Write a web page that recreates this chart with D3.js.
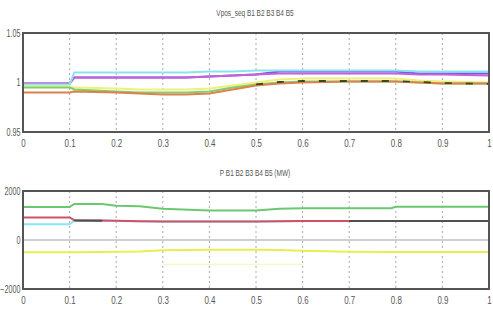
<!DOCTYPE html>
<html>
<head>
<meta charset="utf-8">
<script src="https://cdn.jsdelivr.net/npm/d3@7"></script>
<style>
  body { margin: 0; background: #fff; }
  svg text { font-family: "Liberation Sans", "DejaVu Sans", sans-serif; fill: #555; }
</style>
</head>
<body>
<svg id="chart" width="493" height="322"></svg>
<script>
// shared x ticks
const xTicks = [0, 0.1, 0.2, 0.3, 0.4, 0.5, 0.6, 0.7, 0.8, 0.9, 1];

// top plot: positive sequence voltage
const vTitle = "Vpos_seq B1 B2 B3 B4 B5";
const vTime = [0, 0.1, 0.11, 0.2, 0.25, 0.3, 0.35, 0.4, 0.45, 0.5, 0.55, 0.6, 0.7, 0.8, 0.85, 0.9, 1.0];
const vTicks = [0.95, 1, 1.05];
const vYellow  = [0.996, 0.996, 0.995, 0.994, 0.993, 0.993, 0.993, 0.994, 0.997, 1.000, 1.003, 1.004, 1.004, 1.004, 1.002, 1.001, 1.000];
const vMagenta = [0.999, 0.999, 1.005, 1.005, 1.005, 1.005, 1.005, 1.006, 1.007, 1.008, 1.009, 1.009, 1.009, 1.009, 1.008, 1.008, 1.007];
const vBlue    = [0.999, 0.999, 1.005, 1.005, 1.005, 1.005, 1.005, 1.006, 1.007, 1.008, 1.0112, 1.0112, 1.0112, 1.0112, 1.009, 1.009, 1.009];
const vCyan    = [0.998, 0.998, 1.010, 1.010, 1.010, 1.010, 1.010, 1.011, 1.011, 1.012, 1.012, 1.012, 1.012, 1.012, 1.011, 1.011, 1.011];
const vRed     = [0.990, 0.990, 0.991, 0.990, 0.989, 0.988, 0.988, 0.989, 0.993, 0.997, 0.999, 1.000, 1.001, 1.001, 1.000, 0.999, 0.999];
const vGreen   = [0.995, 0.995, 0.993, 0.991, 0.990, 0.990, 0.990, 0.991, 0.995, 0.998, 1.000, 1.001, 1.001, 1.001, 1.000, 0.999, 0.999];
const vBlack   = [null, null, null, null, null, null, null, null, null, 0.998, 1.0005, 1.0015, 1.0015, 1.0015, 1.0005, 0.9995, 0.9985];

// bottom plot: active power
const pTitle = "P B1 B2 B3 B4 B5 (MW)";
const pTime = [0, 0.1, 0.11, 0.17, 0.2, 0.25, 0.3, 0.4, 0.5, 0.55, 0.6, 0.7, 0.79, 0.8, 0.9, 1.0];
const pTicks = [-2000, 0, 2000];
const pGreen  = [1350, 1350, 1470, 1470, 1400, 1380, 1280, 1200, 1200, 1280, 1300, 1300, 1300, 1360, 1360, 1360];
const pCyan   = [640, 640, 790, 790, 780, 770, 760, 760, 760, 770, 775, 775, 775, 775, 775, 775];
const pRed    = [920, 920, 810, 800, 790, 770, 760, 760, 760, 770, 775, 775, 775, 775, 775, 775];
const pBlack  = [null, null, 800, 790, null, null, null, null, 740, null, null, 775, 775, 775, 775, 775];
const pGrey   = [0, 0, 0, 0, 0, 0, 0, 0, 0, 0, 0, 0, 0, 0, 0, 0];
const pYellow = [-500, -500, -500, -490, -480, -470, -420, -400, -400, -410, -440, -480, -490, -490, -490, -490];
const pFaint  = [null, null, null, null, null, null, -1000, -1000, -1000, -1000, -1000, null, null, null, null, null];

const svg = d3.select("#chart");
const squeeze = "scale(0.72,1)";

function panel(top, bottom, title, titleY, yDomain, yTicks, time, series) {
  const x = d3.scaleLinear().domain([0, 1]).range([23, 489]);
  const y = d3.scaleLinear().domain(yDomain).range([bottom, top]);
  const g = svg.append("g");

  // dotted vertical grid
  g.selectAll(".grid").data(xTicks.slice(1, -1)).enter().append("line")
    .attr("x1", d => x(d)).attr("x2", d => x(d))
    .attr("y1", top).attr("y2", bottom)
    .attr("stroke", "#a8a8a8").attr("stroke-width", 1)
    .attr("stroke-dasharray", "2,3");

  const line = d3.line()
    .defined(d => d[1] !== null)
    .x(d => x(d[0])).y(d => y(d[1]));

  series.forEach(s => {
    g.append("path")
      .datum(time.map((t, i) => [t, s.values[i]]))
      .attr("d", line)
      .attr("fill", "none")
      .attr("stroke", s.color)
      .attr("stroke-width", s.width || 2)
      .attr("stroke-dasharray", s.dash || null);
  });

  // frame
  g.append("rect")
    .attr("x", x(0)).attr("y", top)
    .attr("width", x(1) - x(0)).attr("height", bottom - top)
    .attr("fill", "none").attr("stroke", "#555").attr("stroke-width", 2);

  const xAxis = g.append("g")
    .attr("transform", `translate(0,${bottom})`)
    .call(d3.axisBottom(x).tickValues(xTicks).tickSize(0).tickPadding(7).tickFormat(d3.format("")));
  xAxis.select(".domain").remove();
  xAxis.selectAll("text").attr("font-size", 11).attr("transform", squeeze).style("fill", "#555");

  const yAxis = g.append("g")
    .attr("transform", `translate(${x(0) - 1},0)`)
    .call(d3.axisLeft(y).tickValues(yTicks).tickSize(0).tickPadding(2).tickFormat(d3.format("")));
  yAxis.select(".domain").remove();
  yAxis.selectAll("text").attr("font-size", 10).attr("transform", squeeze).style("fill", "#555");

  svg.append("text")
    .attr("transform", `translate(255,${titleY}) ${squeeze}`)
    .attr("text-anchor", "middle")
    .attr("font-size", 9)
    .text(title);
}

panel(33, 132, vTitle, 16, [0.95, 1.05], vTicks, vTime, [
  {values: vBlue, color: "#6a5ae8"},
  {values: vMagenta, color: "#c860d8"},
  {values: vCyan, color: "#88e4ee"},
  {values: vYellow, color: "#eef07a"},
  {values: vGreen, color: "#7cd070"},
  {values: vRed, color: "#e0804a"},
  {values: vBlack, color: "#3a4a20", width: 1.8, dash: "7,14"}
]);

panel(191, 289, pTitle, 176, [-2000, 2000], pTicks, pTime, [
  {values: pFaint, color: "#f6f8cc", width: 1.5},
  {values: pGrey, color: "#cfcfcf"},
  {values: pYellow, color: "#e8ee50"},
  {values: pCyan, color: "#8ce6f0"},
  {values: pRed, color: "#d05068"},
  {values: pBlack, color: "#505050"},
  {values: pGreen, color: "#6cc870"}
]);
</script>
</body>
</html>
